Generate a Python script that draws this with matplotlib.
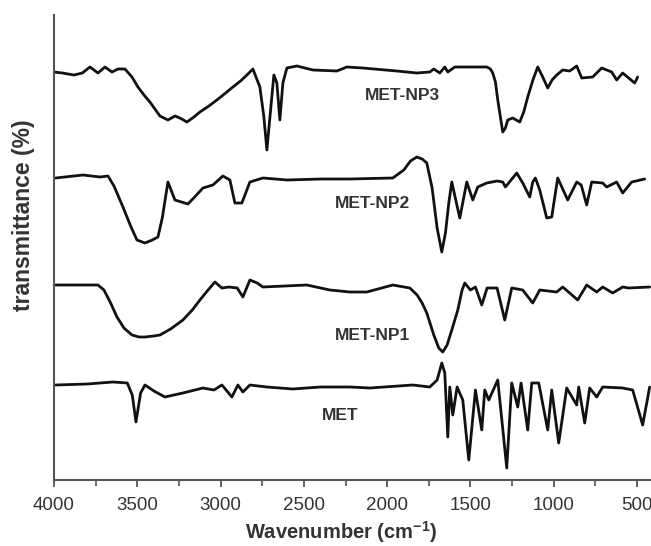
import numpy as np
import matplotlib
matplotlib.use('Agg')
import matplotlib.pyplot as plt
from matplotlib.ticker import MultipleLocator

plt.rcParams['font.family'] = ['Liberation Sans', 'DejaVu Sans']
plt.rcParams['mathtext.fontset'] = 'custom'
plt.rcParams['mathtext.bf'] = 'Liberation Sans:bold'
plt.rcParams['mathtext.rm'] = 'Liberation Sans'

# spectra: wavenumber (cm-1) and transmittance relative to each baseline
np3_wn = [4000, 3950, 3880, 3830, 3784, 3736, 3694, 3652, 3616, 3574, 3532, 3496, 3460, 3424,
          3390, 3364, 3316, 3274, 3244, 3202, 3160, 3124, 3070, 3022, 2970, 2926, 2880, 2842,
          2806, 2764, 2740, 2722, 2698, 2680, 2662, 2644, 2626, 2602, 2542, 2446, 2302, 2242,
          2146, 1942, 1822, 1744, 1720, 1684, 1654, 1636, 1594, 1550, 1402, 1380, 1366, 1350,
          1336, 1306, 1290, 1276, 1246, 1204, 1180, 1156, 1125, 1096, 1066, 1036, 1010, 982,
          946, 904, 862, 832, 766, 712, 652, 622, 586, 514, 496]
np3_t = [0, -1, -3, -1, 5, -1, 5, 0, 3, 3, -5, -15, -23, -30,
         -38, -44, -48, -44, -46, -50, -45, -40, -34, -28, -21, -15, -9, -3,
         3, -15, -45, -78, -35, -3, -11, -48, -11, 4, 6, 2, 1, 5,
         4, 1, -1, 0, 3, -1, 5, 0, 5, 5, 5, 3, -1, -10,
         -28, -60, -56, -48, -46, -50, -40, -25, -8, 5, -5, -16, -8, -3,
         2, 1, 6, -6, -5, 4, 0, -8, -1, -11, -5]

np2_wn = [3990, 3826, 3724, 3676, 3640, 3586, 3540, 3502, 3454, 3410, 3376, 3350, 3316, 3274,
          3196, 3150, 3106, 3046, 2986, 2944, 2914, 2872, 2824, 2746, 2600, 2400, 2224, 1966,
          1900, 1860, 1822, 1790, 1762, 1730, 1700, 1672, 1650, 1630, 1612, 1564, 1522, 1486,
          1456, 1402, 1340, 1306, 1290, 1222, 1186, 1144, 1126, 1110, 1084, 1042, 1012, 976,
          916, 862, 835, 802, 772, 706, 682, 622, 586, 532, 454]
np2_t = [0, 3, 1, 2, -8, -29, -48, -62, -65, -62, -59, -40, -4, -22,
         -26, -18, -10, -7, 2, -2, -25, -25, -4, 0, -2, -1, -1, 0,
         8, 17, 21, 19, 15, -10, -50, -74, -55, -25, -4, -40, -4, -22,
         -9, -5, -3, -4, -9, 5, -5, -19, -4, 0, -12, -40, -39, 0,
         -22, -4, -7, -27, -4, -5, -9, -4, -15, -4, -1]

np1_wn = [3990, 3736, 3700, 3660, 3622, 3580, 3532, 3490, 3454, 3400, 3364, 3300, 3226, 3170,
          3124, 3080, 3034, 2992, 2950, 2900, 2866, 2824, 2780, 2746, 2482, 2344, 2224, 2122,
          1966, 1864, 1820, 1790, 1762, 1720, 1690, 1666, 1640, 1610, 1576, 1550, 1534, 1500,
          1470, 1432, 1400, 1340, 1294, 1252, 1186, 1126, 1084, 982, 946, 856, 802, 742,
          706, 646, 586, 550, 424]
np1_t = [0, 0, -5, -18, -32, -43, -50, -52, -52, -51, -50, -44, -35, -25,
         -15, -6, 3, -3, -2, -3, -12, 5, 2, -2, 0, -5, -7, -7,
         0, -3, -10, -18, -28, -50, -63, -67, -60, -44, -25, -5, 2, -5,
         -2, -20, -3, -3, -35, -3, -5, -18, -5, -7, -2, -15, 0, -7,
         -2, -8, -2, -3, -2]

met_wn = [3990, 3800, 3646, 3560, 3530, 3508, 3480, 3454, 3400, 3334, 3226, 3106, 3040, 2992,
          2932, 2896, 2866, 2824, 2722, 2566, 2400, 2224, 2104, 1846, 1744, 1700, 1672, 1654,
          1636, 1624, 1606, 1580, 1546, 1510, 1470, 1432, 1414, 1390, 1336, 1282, 1252, 1216,
          1196, 1156, 1132, 1090, 1036, 1012, 970, 922, 862, 850, 814, 784, 742, 706,
          586, 526, 466, 424]
met_t = [0, 1, 3, 2, -10, -37, -8, 0, -6, -12, -8, -3, -5, 0,
         -12, 0, -7, 0, -2, -4, -2, -2, -3, 0, -2, 5, 22, 12,
         -52, -2, -30, -2, -15, -75, -5, -45, -5, -15, 5, -83, 2, -22,
         2, -45, 2, 2, -45, -5, -58, -3, -20, -2, -38, -3, -12, -2,
         -3, -5, -40, -2]

names = ['MET-NP3', 'MET-NP2', 'MET-NP1', 'MET']
offsets = [408, 302, 195, 95]
label_x = [1911, 2085, 2085, 2283]
label_y = [385, 277, 145, 65]

spectra = [(np3_wn, np3_t), (np2_wn, np2_t), (np1_wn, np1_t), (met_wn, met_t)]

fig = plt.figure(figsize=(6.51, 5.46), dpi=100)
ax = fig.add_axes([54 / 651, 1 - 480 / 546, 1 - 54 / 651, 465 / 546])

for (wn, t), off in zip(spectra, offsets):
    ax.plot(wn, np.array(t) + off, color='#111111', lw=2.0,
            solid_joinstyle='round', solid_capstyle='round')

for name, lx, ly in zip(names, label_x, label_y):
    ax.text(lx, ly, name, ha='center', va='center', fontsize=12.5,
            fontweight='bold', color='#333333')

ax.set_xlim(4000, 416)
ax.set_ylim(0, 465)
ax.xaxis.set_major_locator(MultipleLocator(500))
ax.xaxis.set_minor_locator(MultipleLocator(250))
ax.set_yticks([])
for s in ['top', 'right']:
    ax.spines[s].set_visible(False)
for s in ['left', 'bottom']:
    ax.spines[s].set_color('#555555')
    ax.spines[s].set_linewidth(1.5)
ax.tick_params(axis='x', which='major', length=5, width=1.3, color='#555555',
               labelsize=13.5, labelcolor='#333333', pad=7)
ax.tick_params(axis='x', which='minor', length=4, width=1.2, color='#555555')

fig.text(341 / 651, 1 - 532 / 546, 'Wavenumber (cm$\\mathbf{^{-1}}$)', ha='center', va='center',
         fontsize=14.5, fontweight='bold', color='#333333')
fig.text(24 / 651, 1 - 215 / 546, 'transmittance (%)', ha='center', va='center', rotation=90,
         fontsize=16.5, fontweight='bold', color='#333333')

fig.savefig('out.png', dpi=100)
